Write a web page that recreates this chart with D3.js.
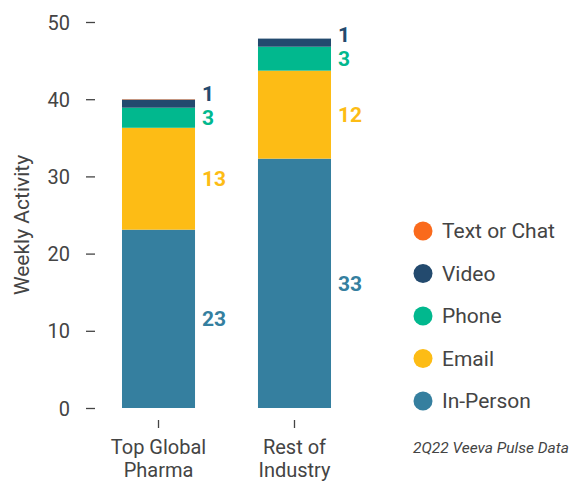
<!DOCTYPE html>
<html><head><meta charset="utf-8">
<script src="https://cdn.jsdelivr.net/npm/d3@7/dist/d3.min.js"></script>
<style>body{margin:0;background:#fff}svg{display:block;font-family:Roboto,"Noto Sans",sans-serif}</style>
</head><body><svg id="c" width="570" height="481"></svg>
<script>
const categories = ["Top Global Pharma", "Rest of Industry"];
const categoryLines = [["Top Global", "Pharma"], ["Rest of", "Industry"]];
const seriesNames = ["In-Person", "Email", "Phone", "Video", "Text or Chat"];
const inPerson = [23.1, 32.3];
const email = [13.2, 11.4];
const phone = [2.6, 3.1];
const video = [1.05, 1.05];
const textChat = [0.05, 0];
const inPersonLabels = ["23", "33"];
const emailLabels = ["13", "12"];
const phoneLabels = ["3", "3"];
const videoLabels = ["1", "1"];
const textChatLabels = ["", ""];
const yTicks = [0, 10, 20, 30, 40, 50];
const legendOrder = ["Text or Chat", "Video", "Phone", "Email", "In-Person"];
const sourceNote = "2Q22 Veeva Pulse Data";
const yTitle = "Weekly Activity";

const colors = {"In-Person":"#357f9f","Email":"#fdbc15","Phone":"#01b88e","Video":"#234a6e","Text or Chat":"#fa6a1c"};
const seriesVals = {"In-Person":inPerson,"Email":email,"Phone":phone,"Video":video,"Text or Chat":textChat};
const seriesLabels = {"In-Person":inPersonLabels,"Email":emailLabels,"Phone":phoneLabels,"Video":videoLabels,"Text or Chat":textChatLabels};

const table = categories.map((c,i)=>{const o={cat:c}; seriesNames.forEach(s=>o[s]=seriesVals[s][i]); return o;});
const stack = d3.stack().keys(seriesNames)(table);

const svg = d3.select("#c");
const y = d3.scaleLinear().domain([0,50]).range([408,22]);
const x = d3.scaleBand().domain(categories).range([81.2,371.8]).paddingInner(0.463).paddingOuter(0.3);
const txt = "#444";

// y axis
const ya = svg.append("g").attr("transform","translate(95,0)")
  .call(d3.axisLeft(y).tickValues(yTicks).tickSize(9).tickPadding(16));
ya.select(".domain").remove();
ya.selectAll("line").attr("stroke",txt).attr("stroke-width",1.3);
ya.selectAll("text").attr("fill",txt).style("font-size","20px").style("font-family","Roboto").attr("dy","0.35em");

// x axis
const xa = svg.append("g").attr("transform","translate(0,420)")
  .call(d3.axisBottom(x).tickSize(8).tickFormat(""));
xa.select(".domain").remove();
xa.selectAll("line").attr("stroke",txt).attr("stroke-width",1.3);
categories.forEach((c,i)=>{
  const t = svg.append("text").attr("text-anchor","middle").attr("fill",txt)
    .style("font-size","20px");
  categoryLines[i].forEach((l,j)=>t.append("tspan").attr("x",x(c)+x.bandwidth()/2).attr("y",454+j*23).text(l));
});

// bars
stack.forEach(layer=>{
  svg.append("g").selectAll("rect").data(layer).join("rect")
    .attr("x",d=>x(d.data.cat)).attr("width",x.bandwidth())
    .attr("y",d=>y(d[1])).attr("height",d=>y(d[0])-y(d[1]))
    .attr("fill",colors[layer.key]);
});

// value labels: at segment middles, pushed upward when they collide
categories.forEach((c,i)=>{
  const items = seriesNames.map((s,k)=>({s, lab:seriesLabels[s][i], mid:(y(stack[k][i][0])+y(stack[k][i][1]))/2}))
    .filter(d=>d.lab!=="");
  items.sort((a,b)=>b.mid-a.mid); // bottom-up
  const gap = 24;
  for(let k=1;k<items.length;k++){
    if(items[k-1].mid-items[k].mid<gap) items[k].mid = items[k-1].mid-gap;
  }
  items.forEach(d=>{
    svg.append("text").attr("x",x(c)+x.bandwidth()+7).attr("y",d.mid).attr("dy","0.36em")
      .attr("fill",colors[d.s]).style("font-size","21px").style("font-weight","700").text(d.lab);
  });
});

// y title
svg.append("text").attr("transform","translate(22,225) rotate(-90)").attr("text-anchor","middle")
  .attr("dy","0.35em").attr("fill",txt).style("font-size","21px").text(yTitle);

// legend
legendOrder.forEach((s,i)=>{
  const cy = 231 + i*42.5;
  svg.append("circle").attr("cx",423).attr("cy",cy).attr("r",9.5).attr("fill",colors[s]);
  svg.append("text").attr("x",442).attr("y",cy).attr("dy","0.35em").attr("fill",txt)
    .style("font-size","21px").text(s);
});
svg.append("text").attr("x",413).attr("y",448).attr("dy","0.35em").attr("fill",txt)
  .style("font-size","15.5px").style("font-style","italic").text(sourceNote);
</script></body></html>
